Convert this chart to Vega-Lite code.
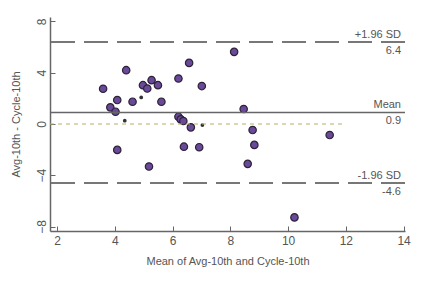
{
  "$schema": "https://vega.github.io/schema/vega-lite/v6.json",
  "autosize": "none",
  "width": 355,
  "height": 214,
  "padding": {"left": 50, "top": 17, "right": 27, "bottom": 75},
  "background": "white",
  "config": {
    "view": {"stroke": null},
    "font": "Liberation Sans",
    "axis": {
      "grid": false,
      "domainColor": "#666",
      "domainWidth": 1.5,
      "tickColor": "#666",
      "labelColor": "#555",
      "labelFontSize": 12,
      "titleColor": "#555",
      "titleFontSize": 11,
      "titleFontWeight": "normal"
    }
  },
  "datasets": {
    "points": [
      {"avg": 6.57, "diff": 4.77},
      {"avg": 4.39, "diff": 4.2},
      {"avg": 3.59, "diff": 2.75},
      {"avg": 4.97, "diff": 3.03},
      {"avg": 5.12, "diff": 2.77},
      {"avg": 5.27, "diff": 3.42},
      {"avg": 5.49, "diff": 3.03},
      {"avg": 6.2, "diff": 3.55},
      {"avg": 7.01, "diff": 2.96},
      {"avg": 4.08, "diff": 1.87},
      {"avg": 4.61, "diff": 1.74},
      {"avg": 5.61, "diff": 1.74},
      {"avg": 3.84, "diff": 1.3},
      {"avg": 4.02, "diff": 0.96},
      {"avg": 6.2, "diff": 0.57},
      {"avg": 6.28, "diff": 0.36},
      {"avg": 6.37, "diff": 0.23},
      {"avg": 6.63, "diff": -0.26},
      {"avg": 8.46, "diff": 1.17},
      {"avg": 8.77, "diff": -0.47},
      {"avg": 8.83, "diff": -1.63},
      {"avg": 8.6, "diff": -3.11},
      {"avg": 4.08, "diff": -2.02},
      {"avg": 6.39, "diff": -1.77},
      {"avg": 6.92, "diff": -1.81},
      {"avg": 5.18, "diff": -3.32},
      {"avg": 8.13, "diff": 5.63},
      {"avg": 11.44, "diff": -0.86},
      {"avg": 10.22, "diff": -7.29}
    ],
    "small": [
      {"avg": 4.91, "diff": 2.07},
      {"avg": 4.34, "diff": 0.26},
      {"avg": 7.03, "diff": -0.08}
    ],
    "limits": [
      {"y": 6.4, "top": "+1.96 SD", "bottom": "6.4", "kind": "sd"},
      {"y": 0.9, "top": "Mean", "bottom": "0.9", "kind": "mean"},
      {"y": -4.6, "top": "-1.96 SD", "bottom": "-4.6", "kind": "sd"}
    ],
    "zero": [{"y": 0, "x1": 1.75, "x2": 11.9}]
  },
  "layer": [
    {
      "data": {"name": "points"},
      "mark": {"type": "point", "filled": true, "fill": "#6a4a98", "stroke": "#2b2238", "strokeWidth": 1.2, "size": 55, "opacity": 1},
      "encoding": {
        "x": {
          "field": "avg", "type": "quantitative",
          "scale": {"domain": [1.75, 14.05], "nice": false, "zero": false},
          "axis": {
            "title": "Mean of Avg-10th and Cycle-10th",
            "values": [2,3,4,5,6,7,8,9,10,11,12,13,14],
            "labelExpr": "datum.value % 2 === 0 ? datum.label : ''",
            "tickSize": {"condition": {"test": "datum.value % 2 === 0", "value": -5}, "value": -3},
            "labelPadding": 9,
            "titlePadding": 9
          }
        },
        "y": {
          "field": "diff", "type": "quantitative",
          "scale": {"domain": [-8.35, 8.35], "nice": false, "zero": false},
          "axis": {
            "title": "Avg-10th - Cycle-10th",
            "values": [-8,-7,-6,-5,-4,-3,-2,-1,0,1,2,3,4,5,6,7,8],
            "labelExpr": "datum.value % 2 === 0 ? datum.label : ''",
            "tickSize": {"condition": {"test": "datum.value % 2 === 0", "value": -5}, "value": -3},
            "labelAngle": -90,
            "labelPadding": 7,
            "titlePadding": 14
          }
        }
      }
    },
    {
      "data": {"name": "small"},
      "mark": {"type": "point", "filled": true, "fill": "#333", "size": 14, "opacity": 1},
      "encoding": {
        "x": {"field": "avg", "type": "quantitative"},
        "y": {"field": "diff", "type": "quantitative"}
      }
    },
    {
      "data": {"name": "zero"},
      "mark": {"type": "rule", "color": "#b8b06a", "strokeWidth": 1.2, "strokeDash": [4, 4]},
      "encoding": {
        "x": {"field": "x1", "type": "quantitative"},
        "x2": {"field": "x2"},
        "y": {"field": "y", "type": "quantitative"}
      }
    },
    {
      "data": {"name": "limits"},
      "transform": [{"filter": "datum.kind === 'mean'"}],
      "mark": {"type": "rule", "color": "#666", "strokeWidth": 1.5},
      "encoding": {
        "y": {"field": "y", "type": "quantitative"}
      }
    },
    {
      "data": {"name": "limits"},
      "transform": [{"filter": "datum.kind === 'sd'"}],
      "mark": {"type": "rule", "color": "#777", "strokeWidth": 2, "strokeDash": [24, 9]},
      "encoding": {
        "y": {"field": "y", "type": "quantitative"}
      }
    },
    {
      "data": {"name": "limits"},
      "mark": {"type": "text", "align": "right", "baseline": "bottom", "dy": -2, "dx": -4, "fontSize": 11, "color": "#555"},
      "encoding": {
        "x": {"datum": 14.05, "type": "quantitative"},
        "y": {"field": "y", "type": "quantitative"},
        "text": {"field": "top"}
      }
    },
    {
      "data": {"name": "limits"},
      "mark": {"type": "text", "align": "right", "baseline": "top", "dy": 3, "dx": -4, "fontSize": 11, "color": "#555"},
      "encoding": {
        "x": {"datum": 14.05, "type": "quantitative"},
        "y": {"field": "y", "type": "quantitative"},
        "text": {"field": "bottom"}
      }
    }
  ]
}
